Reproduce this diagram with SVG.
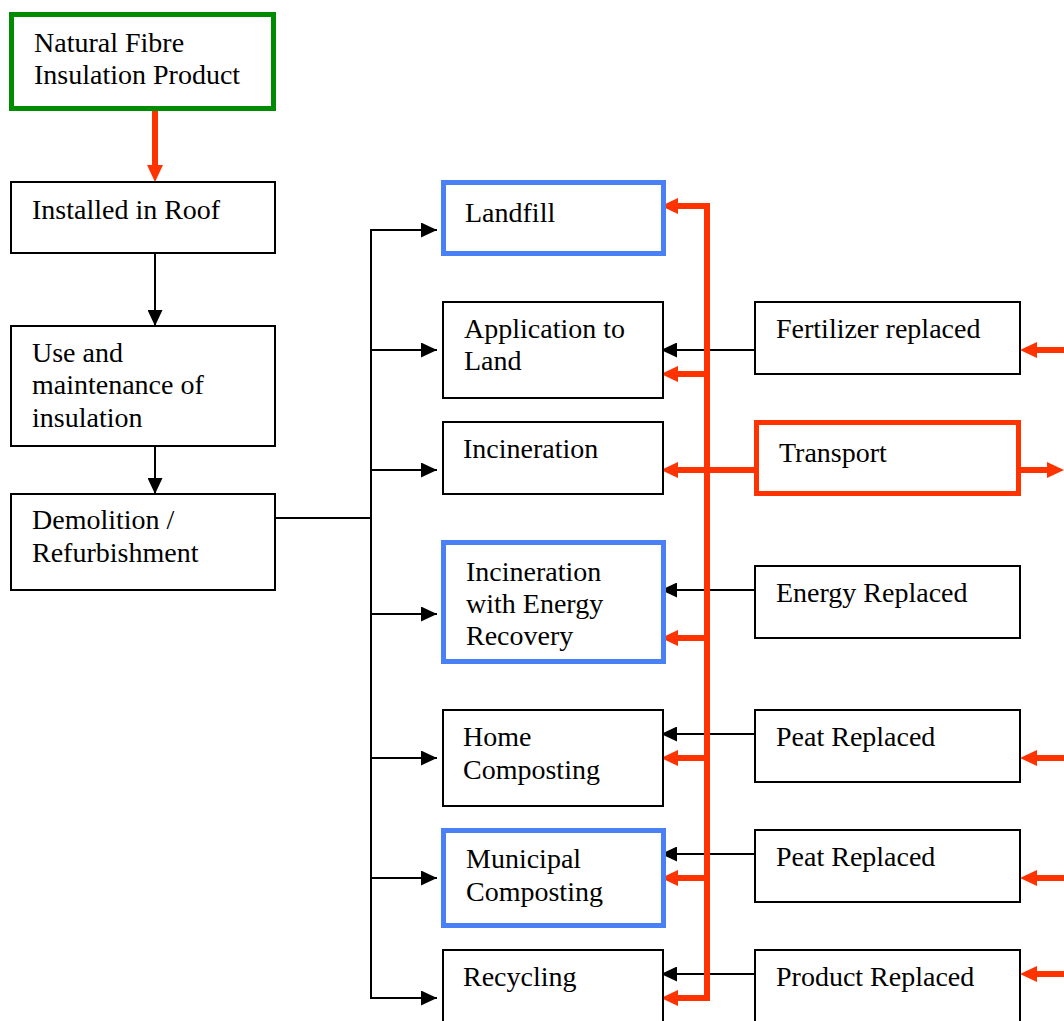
<svg xmlns="http://www.w3.org/2000/svg" width="1064" height="1021" viewBox="0 0 1064 1021">
<style>
.box{fill:#fff;stroke:#000;stroke-width:2}
.green{fill:#fff;stroke:#008c00;stroke-width:5}
.blue{fill:#fff;stroke:#4a80f5;stroke-width:5}
.redbox{fill:#fff;stroke:#ff3300;stroke-width:5}
text{font-family:"Liberation Serif","Times New Roman",serif;font-size:28px;fill:#000}
.bl{stroke:#000;stroke-width:2;fill:none}
.rl{stroke:#ff3300;stroke-width:6;fill:none}
.ba{marker-end:url(#ab)}
.ra{marker-end:url(#ar)}
</style>
<defs>
<marker id="ab" markerUnits="userSpaceOnUse" markerWidth="16" markerHeight="15" refX="16" refY="7.5" orient="auto">
<path d="M0,0 L16,7.5 L0,15 z" fill="#000"/>
</marker>
<marker id="ar" markerUnits="userSpaceOnUse" markerWidth="17" markerHeight="16" refX="5" refY="8" orient="auto">
<path d="M0,0 L17,8 L0,16 z" fill="#ff3300"/>
</marker>
</defs>
<rect width="1064" height="1021" fill="#fff"/>
<g id="connectors">
<line class="rl ra" x1="155" y1="110" x2="155" y2="170"/>
<line class="bl ba" x1="155" y1="254" x2="155" y2="326"/>
<line class="bl ba" x1="155" y1="446" x2="155" y2="494"/>
<line class="bl" x1="275" y1="518" x2="372" y2="518"/>
<line class="bl" x1="371" y1="229" x2="371" y2="999"/>
<line class="bl ba" x1="370" y1="230" x2="437" y2="230"/>
<line class="bl ba" x1="370" y1="350" x2="437" y2="350"/>
<line class="bl ba" x1="370" y1="470" x2="437" y2="470"/>
<line class="bl ba" x1="370" y1="614" x2="437" y2="614"/>
<line class="bl ba" x1="370" y1="758" x2="437" y2="758"/>
<line class="bl ba" x1="370" y1="878" x2="437" y2="878"/>
<line class="bl ba" x1="370" y1="998" x2="437" y2="998"/>
<line class="bl ba" x1="755" y1="350" x2="661" y2="350"/>
<line class="bl ba" x1="755" y1="590" x2="661" y2="590"/>
<line class="bl ba" x1="755" y1="734" x2="661" y2="734"/>
<line class="bl ba" x1="755" y1="854" x2="661" y2="854"/>
<line class="bl ba" x1="755" y1="974" x2="661" y2="974"/>
<line class="rl" x1="707" y1="203" x2="707" y2="1001"/>
<line class="rl ra" x1="710" y1="206" x2="673" y2="206"/>
<line class="rl ra" x1="707" y1="374" x2="673" y2="374"/>
<line class="rl ra" x1="754" y1="470" x2="673" y2="470"/>
<line class="rl ra" x1="707" y1="638" x2="673" y2="638"/>
<line class="rl ra" x1="707" y1="758" x2="673" y2="758"/>
<line class="rl ra" x1="707" y1="878" x2="673" y2="878"/>
<line class="rl ra" x1="710" y1="998" x2="673" y2="998"/>
<line class="rl ra" x1="1020" y1="470" x2="1052" y2="470"/>
<line class="rl ra" x1="1066" y1="350" x2="1032" y2="350"/>
<line class="rl ra" x1="1066" y1="758" x2="1032" y2="758"/>
<line class="rl ra" x1="1066" y1="878" x2="1032" y2="878"/>
<line class="rl ra" x1="1066" y1="974" x2="1032" y2="974"/>
</g>
<g id="natural-fibre"><rect class="green" x="11.5" y="14.5" width="262" height="94"/><text x="34" y="52">Natural Fibre</text><text x="34" y="84">Insulation Product</text></g>
<g id="installed"><rect class="box" x="11" y="182" width="264" height="71"/><text x="32" y="219">Installed in Roof</text></g>
<g id="use"><rect class="box" x="11" y="326" width="264" height="120"/><text x="32" y="362">Use and</text><text x="32" y="394">maintenance of</text><text x="32" y="427">insulation</text></g>
<g id="demolition"><rect class="box" x="11" y="494" width="264" height="96"/><text x="32" y="529">Demolition /</text><text x="32" y="562">Refurbishment</text></g>
<g id="landfill"><rect class="blue" x="443.5" y="182.5" width="220" height="71"/><text x="465" y="222">Landfill</text></g>
<g id="application"><rect class="box" x="443" y="302" width="220" height="96"/><text x="464" y="338">Application to</text><text x="464" y="370">Land</text></g>
<g id="incineration"><rect class="box" x="443" y="422" width="220" height="72"/><text x="463" y="458">Incineration</text></g>
<g id="incineration-energy"><rect class="blue" x="443.5" y="542.5" width="220" height="119"/><text x="466" y="581">Incineration</text><text x="466" y="613">with Energy</text><text x="466" y="645">Recovery</text></g>
<g id="home-composting"><rect class="box" x="443" y="710" width="220" height="96"/><text x="463" y="746">Home</text><text x="463" y="779">Composting</text></g>
<g id="municipal-composting"><rect class="blue" x="443.5" y="830.5" width="220" height="95"/><text x="466" y="868">Municipal</text><text x="466" y="901">Composting</text></g>
<g id="recycling"><rect class="box" x="443" y="950" width="220" height="96"/><text x="463" y="986">Recycling</text></g>
<g id="fertilizer"><rect class="box" x="755" y="302" width="265" height="72"/><text x="776" y="338">Fertilizer replaced</text></g>
<g id="transport"><rect class="redbox" x="756.5" y="422.5" width="262" height="71"/><text x="779" y="462">Transport</text></g>
<g id="energy-replaced"><rect class="box" x="755" y="566" width="265" height="72"/><text x="776" y="602">Energy Replaced</text></g>
<g id="peat-1"><rect class="box" x="755" y="710" width="265" height="72"/><text x="776" y="746">Peat Replaced</text></g>
<g id="peat-2"><rect class="box" x="755" y="830" width="265" height="72"/><text x="776" y="866">Peat Replaced</text></g>
<g id="product-replaced"><rect class="box" x="755" y="950" width="265" height="96"/><text x="776" y="986">Product Replaced</text></g>
</svg>
